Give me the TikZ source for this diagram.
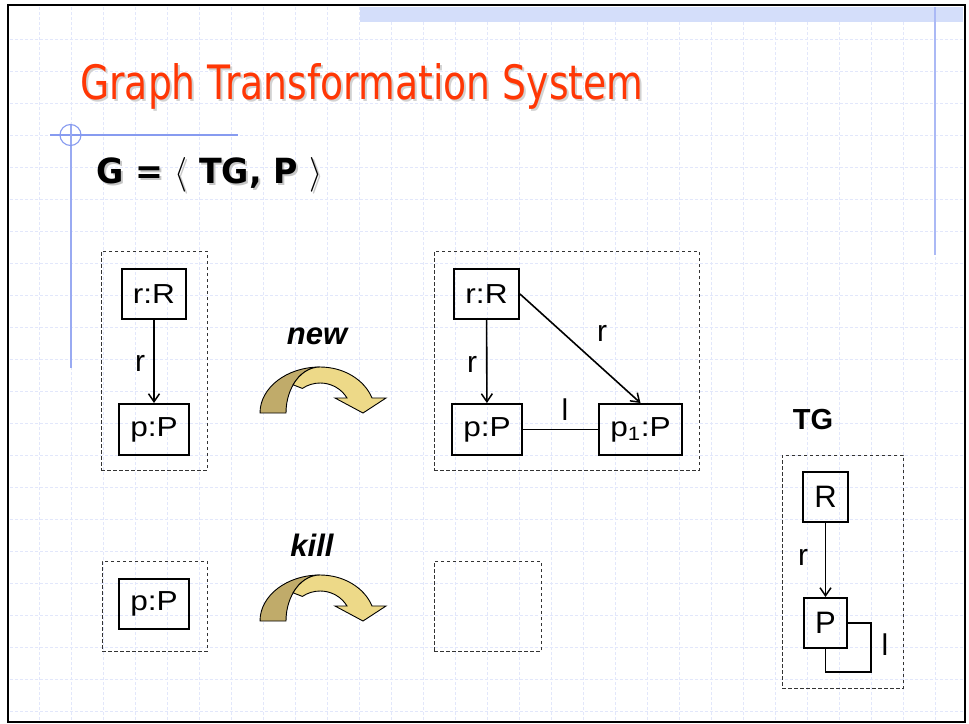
\documentclass[tikz,border=0pt]{standalone}
\usepackage{fontspec}
\setmainfont{Liberation Sans}
\newfontfamily\tahoma{DejaVu Sans}
\newfontfamily\arialwide[FakeStretch=1.15]{Liberation Sans}
\usetikzlibrary{arrows.meta}

\definecolor{titlered}{RGB}{255,55,5}
\definecolor{gridblue}{RGB}{226,231,251}
\definecolor{bandblue}{RGB}{212,222,250}
\definecolor{ruleblue}{RGB}{135,155,240}
\definecolor{tandark}{RGB}{192,171,106}
\definecolor{tanlight}{RGB}{237,217,136}

\tikzset{
  gridline/.style={gridblue, line width=0.8pt, dash pattern=on 3pt off 2pt},
  objbox/.style={draw, line width=2pt, inner sep=0pt, font=\arialwide\fontsize{27.5}{30}\selectfont},
  typebox/.style={draw, line width=2pt, inner sep=0pt, font=\fontsize{31}{34}\selectfont},
  groupbox/.style={draw=black!80, line width=1pt, dash pattern=on 3.5pt off 2.5pt, inner sep=0pt},
  edgearrow/.style={line width=1.6pt, -{Straight Barb[length=8pt,width=11pt,line width=1.5pt]}},
  plainedge/.style={line width=1.6pt},
  elabel/.style={font=\fontsize{30}{32}\selectfont, inner sep=0pt},
  oplabel/.style={font=\bfseries\itshape\fontsize{31}{34}\selectfont, inner sep=0pt},
  curvedarrow/.pic={
    % back face of the ribbon
    \filldraw[fill=tandark, draw=black, line width=0.9pt]
      (-60,0) arc[start angle=180, end angle=270, x radius=60, y radius=46]
              arc[start angle=270, end angle=180, x radius=34, y radius=46] -- cycle;
    % front face with the arrow head
    \filldraw[fill=tanlight, draw=black, line width=0.9pt]
      (0,-46) arc[start angle=270, end angle=340.9, x radius=55, y radius=46]
      -- (66,-15) -- (43,0) -- (15,-15) -- (27,-15)
      arc[start angle=330, end angle=235, x radius=31, y radius=30]
      -- (-26.9,-28.2)
      arc[start angle=217.8, end angle=270, x radius=34, y radius=46] -- cycle;
  }
}

\begin{document}
\begin{tikzpicture}[x=1pt, y=-1pt]
\useasboundingbox (0,0) rectangle (969,723);
\fill[white] (0,0) rectangle (969,723);

% background grid
\foreach \gx in {39,71,...,935} \draw[gridline] (\gx,7) -- (\gx,720);
\foreach \gy in {39,71,...,711} \draw[gridline] (10,\gy) -- (963,\gy);

% top band and decorative rules
\fill[bandblue] (360,7) rectangle (963,22);
\draw[ruleblue!70, line width=1.6pt] (935,7) -- (935,255);
\draw[ruleblue, line width=1.1pt] (50,135) -- (238,135);
\draw[ruleblue!85, line width=1.1pt] (71,125) -- (71,368);
\draw[ruleblue, line width=1.1pt] (70.5,135) circle[radius=10.5];

% title and formula, each with a soft drop shadow
\node[anchor=base west, inner sep=0pt, text=gray!35] (titleshadow) at (82,101)
  {\resizebox{563pt}{36pt}{\tahoma Graph Transformation System}};
\node[anchor=base west, inner sep=0pt, text=titlered] (title) at (80,99)
  {\resizebox{563pt}{36pt}{\tahoma Graph Transformation System}};
\node[anchor=base west, inner sep=0pt, text=gray!45] (gtsshadow) at (98,185)
  {\resizebox{226pt}{26pt}{\tahoma\bfseries G = $\langle$ TG, P $\rangle$}};
\node[anchor=base west, inner sep=0pt] (gts) at (96,183)
  {\resizebox{226pt}{26pt}{\tahoma\bfseries G = $\langle$ TG, P $\rangle$}};

% rule "new": left-hand side
\node[groupbox, minimum width=106pt, minimum height=219pt] (lhsnew) at (154,360.5) {};
\node[objbox, minimum width=64pt, minimum height=50pt] (rR1) at (154,294) {r:R};
\node[objbox, minimum width=70pt, minimum height=51pt] (pP1) at (154,429.5) {p:P};
\draw[edgearrow] (rR1) -- (pP1);
\node[elabel] (lr1) at (140,363) {r};

% rule "new": operation
\node[oplabel] (newlabel) at (317,336) {new};
\pic at (320,413) {curvedarrow};

% rule "new": right-hand side
\node[groupbox, minimum width=265pt, minimum height=219pt] (rhsnew) at (566.5,360.5) {};
\node[objbox, minimum width=65pt, minimum height=50pt] (rR2) at (486.5,294) {r:R};
\node[objbox, minimum width=70pt, minimum height=51pt] (pP2) at (487,429.5) {p:P};
\node[objbox, minimum width=83pt, minimum height=51pt] (p1P) at (640.5,429.5) {p\textsubscript{1}:P};
\draw[edgearrow] (rR2) -- (pP2);
\draw[edgearrow] (rR2.east) -- (p1P.north);
\draw[plainedge] (pP2) -- (p1P);
\node[elabel] (lr2) at (472,364) {r};
\node[elabel] (lr3) at (602,333) {r};
\node[elabel] (ll1) at (565,410) {l};

% rule "kill"
\node[groupbox, minimum width=105pt, minimum height=90pt] (lhskill) at (154.5,606) {};
\node[objbox, minimum width=70pt, minimum height=50pt] (pP3) at (154,604) {p:P};
\node[oplabel] (killlabel) at (312,545) {kill};
\pic at (320,621) {curvedarrow};
\node[groupbox, minimum width=107pt, minimum height=90pt] (rhskill) at (487.5,606) {};

% type graph
\node[font=\bfseries\fontsize{29}{32}\selectfont, inner sep=0pt] (tglabel) at (813,420) {TG};
\node[groupbox, minimum width=121pt, minimum height=233pt] (tgbox) at (842.5,571.5) {};
\node[typebox, minimum width=45pt, minimum height=50pt] (R) at (825.5,497) {R};
\node[typebox, minimum width=43pt, minimum height=50pt] (P) at (825.5,623) {P};
\draw[edgearrow] (R) -- (P);
\coordinate (loopcorner) at (871,672);
\draw[plainedge] (P.east) -| (loopcorner) -| (P.south);
\node[elabel] (tgr) at (803,557) {r};
\node[elabel] (tgl) at (885,645) {l};

% slide frame
\draw[line width=2.5pt] (8,5) rectangle (965,722);
\end{tikzpicture}
\end{document}
